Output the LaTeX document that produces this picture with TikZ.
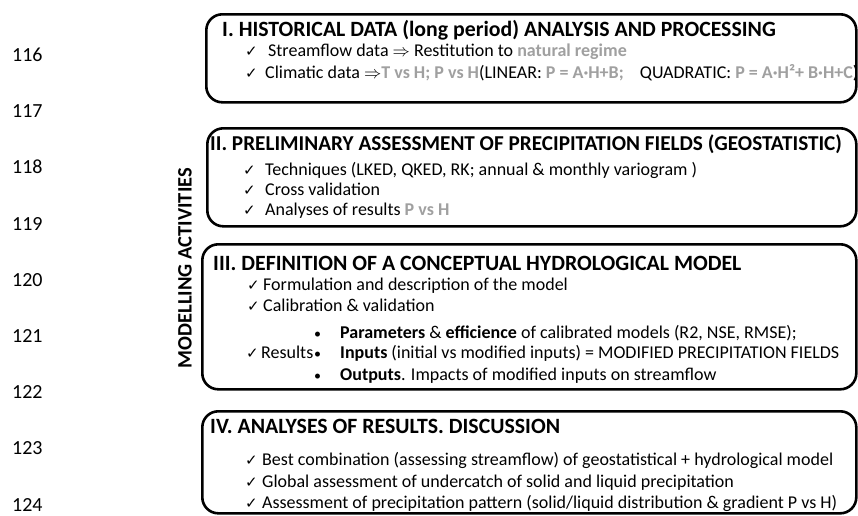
\documentclass[tikz,border=0pt]{standalone}
\usepackage{fontspec}
\setmainfont{Carlito}
\newfontfamily\symf{DejaVu Sans}
\usetikzlibrary{calc,backgrounds}
\definecolor{gtext}{HTML}{A0A0A0}
\definecolor{afill}{HTML}{D9D9D9}
\definecolor{aline}{HTML}{A6A6A6}
\newcommand\ckm{{\symf\fontsize{15}{15}\selectfont ✓}}
\newcommand\gr[1]{\textcolor{gtext}{\bfseries #1}}
\newcommand\imp{\ensuremath{\Rightarrow}}
\newcommand\bul{{\fontsize{14}{14}\selectfont\textbullet}}
\begin{document}
\begin{tikzpicture}[x=1pt,y=-1pt,
  box/.style={draw, line width=2.6pt, rounded corners=16pt, anchor=north west, inner sep=0pt},
  ttl/.style={anchor=base west, font=\fontsize{21.8}{22}\selectfont\bfseries, inner sep=0pt},
  txt/.style={anchor=base west, font=\fontsize{18}{18}\selectfont, inner sep=0pt},
  ck/.style={anchor=base west, inner sep=0pt, font=\fontsize{18}{18}\selectfont},
  num/.style={anchor=base west, font=\fontsize{20}{20}\selectfont, inner sep=0pt},
  barrow/.style={fill=afill, draw=aline, line width=0.8pt}]
\useasboundingbox (0,0) rectangle (858,515);
\fill[white] (0,0) rectangle (858,515);

% line numbers
\foreach \n [count=\i from 0] in {116,...,124}
  \node[num] (n\n) at (12,{61.5+56.2*\i}) {\n};

% side label
\node[rotate=90, inner sep=0pt, font=\fontsize{20.5}{21}\selectfont\bfseries] (ma) at (185,268) {MODELLING ACTIVITIES};

% boxes
\node[box, minimum width=650, minimum height=88] (b1) at (205,13) {};
\node[box, minimum width=649, minimum height=98] (b2) at (206,127) {};
\node[box, minimum width=654, minimum height=145] (b3) at (201,243) {};
\node[box, minimum width=654, minimum height=102] (b4) at (201,410) {};

% block arrows
\coordinate (ax) at (536,0);
\begin{scope}[on background layer]
\foreach \u/\l in {b1/b2,b2/b3,b3/b4}{
  \coordinate (T) at (\u.south -| ax);
  \coordinate (B) at ($(\l.north -| ax)+(0,-1.4)$);
  \draw[barrow] ($(T)+(-6.5,0)$) -- ($(B)+(-6.5,-11)$) -- ($(B)+(-12,-11)$) -- (B)
     -- ($(B)+(12,-11)$) -- ($(B)+(6.5,-11)$) -- ($(T)+(6.5,0)$) -- cycle;
}
\end{scope}

% Box I
\node[ttl] (t1) at (222,36) {I. HISTORICAL DATA (long period) ANALYSIS AND PROCESSING};
\node[ck] (c11) at (245,56) {\ckm};
\node[txt] (l11) at (268,56) {Streamflow data \imp{} Restitution to \gr{natural regime}};
\node[ck] (c12) at (245,78) {\ckm};
\node[txt] (l12) at (265,78) {Climatic data \imp\gr{T vs H; P vs H}(LINEAR: \gr{P = A·H+B;}\hspace{0.9em}QUADRATIC: \gr{P = A·H²+ B·H+C})};

% Box II
\node[ttl, font=\fontsize{21.2}{22}\selectfont\bfseries] (t2) at (210,150) {II. PRELIMINARY ASSESSMENT OF PRECIPITATION FIELDS (GEOSTATISTIC)};
\node[ck] (c21) at (243,175) {\ckm};
\node[txt] (l21) at (265,175) {Techniques (LKED, QKED, RK; annual \& monthly variogram )};
\node[ck] (c22) at (243,195) {\ckm};
\node[txt] (l22) at (265,195) {Cross validation};
\node[ck] (c23) at (243,215) {\ckm};
\node[txt] (l23) at (265,215) {Analyses of results \gr{P vs H}};

% Box III
\node[ttl] (t3) at (213,270) {III. DEFINITION OF A CONCEPTUAL HYDROLOGICAL MODEL};
\node[ck] (c31) at (247,290) {\ckm};
\node[txt] (l31) at (263,290) {Formulation and description of the model};
\node[ck] (c32) at (247,311) {\ckm};
\node[txt] (l32) at (263,311) {Calibration \& validation};
\node[txt] (d1) at (314,338) {\bul};
\node[txt] (l33) at (340,338) {\textbf{Parameters} \& \textbf{efficience} of calibrated models (R2, NSE, RMSE);};
\node[ck] (c34) at (246,358) {\ckm};
\node[txt] (l34a) at (261,358) {Results};
\node[txt] (d2) at (314,358) {\bul};
\node[txt] (l34) at (340,358) {\textbf{Inputs} (initial vs modified inputs) = MODIFIED PRECIPITATION FIELDS};
\node[txt] (d3) at (314,380) {\bul};
\node[txt] (l35) at (340,380) {\textbf{Outputs}. Impacts of modified inputs on streamflow};

% Box IV
\node[ttl] (t4) at (210,433) {IV. ANALYSES OF RESULTS. DISCUSSION};
\node[ck] (c41) at (245,465) {\ckm};
\node[txt] (l41) at (262,465) {Best combination (assessing streamflow) of geostatistical + hydrological model};
\node[ck] (c42) at (245,487) {\ckm};
\node[txt] (l42) at (262,487) {Global assessment of undercatch of solid and liquid precipitation};
\node[ck] (c43) at (245,508) {\ckm};
\node[txt] (l43) at (262,508) {Assessment of precipitation pattern (solid/liquid distribution \& gradient P vs H)};
\end{tikzpicture}
\end{document}
